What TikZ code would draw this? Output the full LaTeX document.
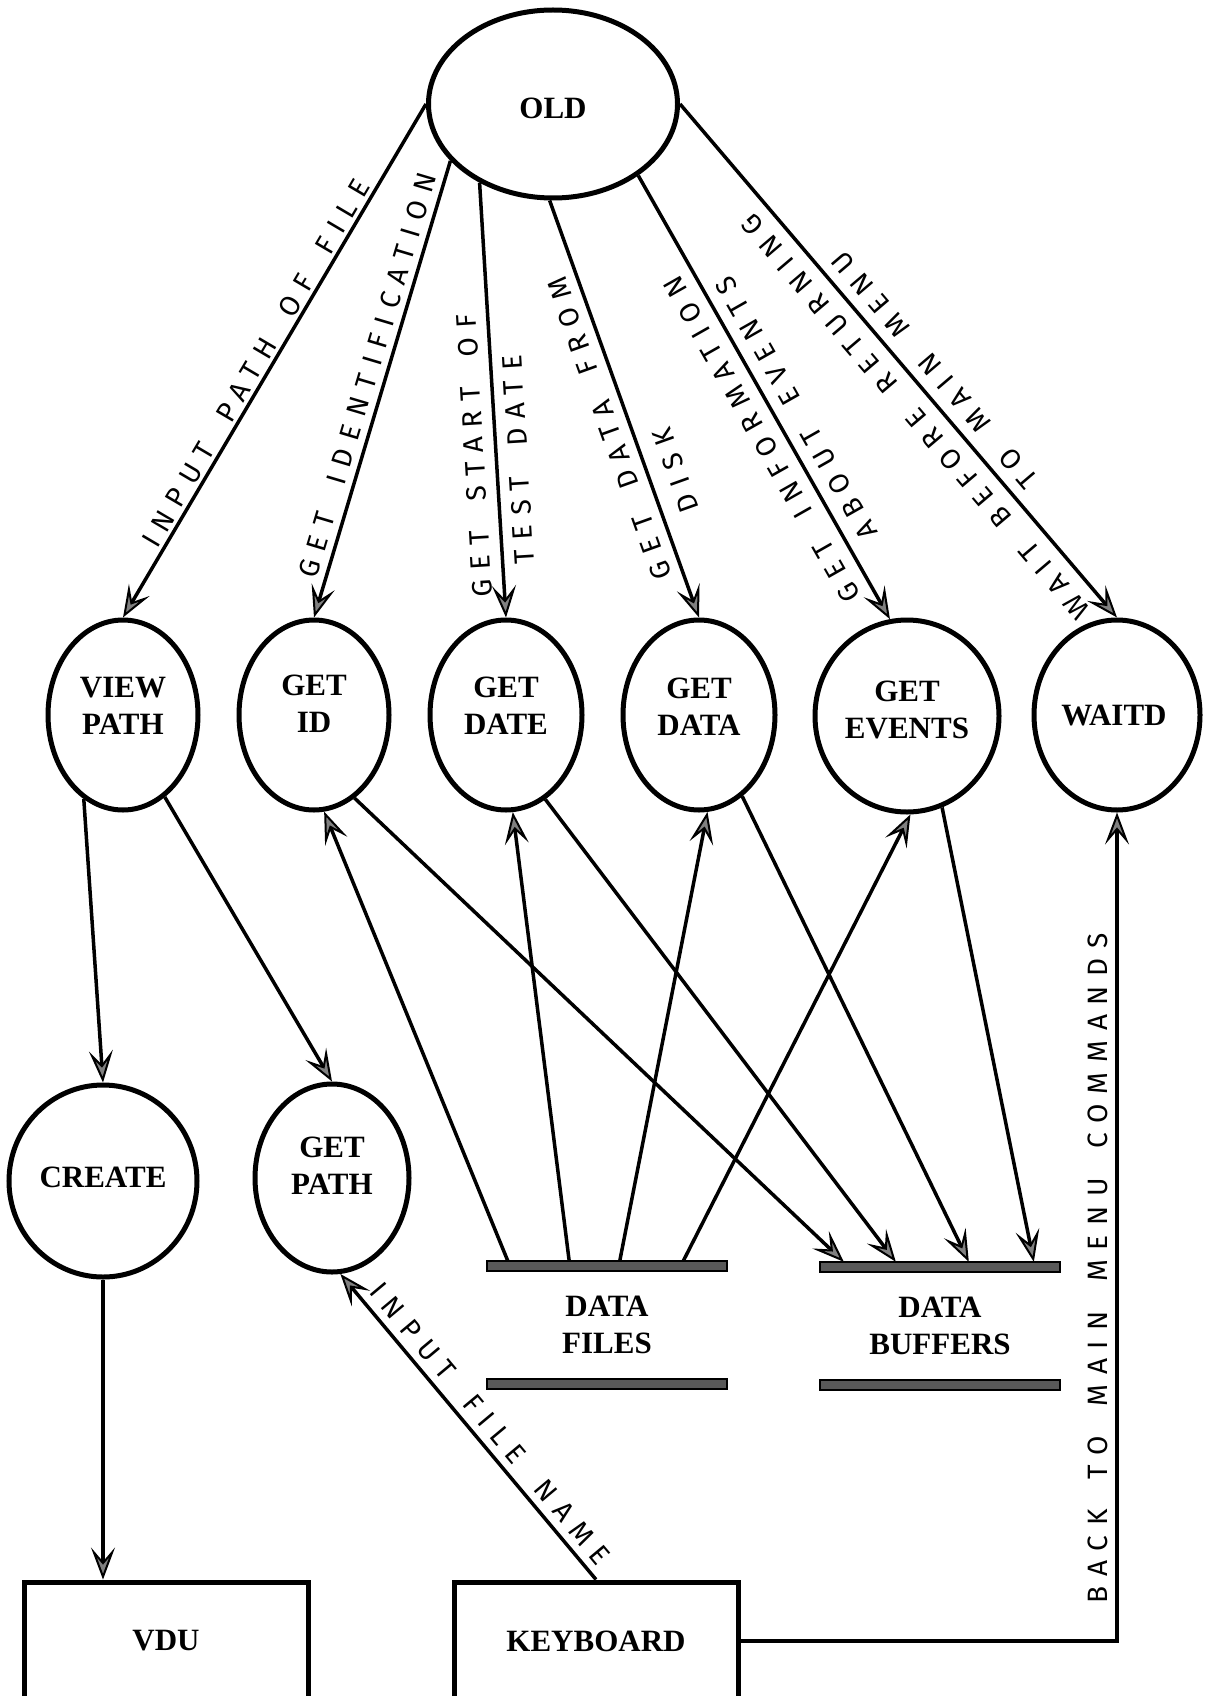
\documentclass[tikz,border=0pt]{standalone}
\usepackage{fontspec}
\setmainfont{Liberation Serif}
\newfontfamily\handfont[LetterSpace=35]{Fira Sans}
\usetikzlibrary{arrows.meta,shapes.geometric}
\newcommand\wsp{\hspace{30pt}}
\begin{document}
\begin{tikzpicture}[x=1pt,y=-1pt,
  >={Stealth[length=32pt,width=24pt,inset=14pt,fill=black!50,line width=2pt]},
  proc/.style={ellipse, draw, line width=5pt, inner sep=0pt},
  ptext/.style={font=\fontsize{31}{37}\selectfont\bfseries, align=center, inner sep=0pt},
  box/.style={rectangle, draw, line width=5pt, inner sep=0pt, minimum width=284pt, minimum height=118pt,
              font=\fontsize{31}{37}\selectfont\bfseries},
  store/.style={ptext, minimum width=240pt, minimum height=118pt},
  bar/.style={draw=black, fill=black!65, line width=1.5pt},
  flow/.style={line width=3.5pt, ->},
  flowin/.style={line width=3.5pt, <-},
  hand/.style={font=\handfont\fontsize{28}{32}\selectfont, inner sep=1pt, sloped},
  up/.style={allow upside down},
]
\useasboundingbox (0,0) rectangle (1206,1696);
\clip (0,0) rectangle (1206,1696);
\fill[white] (0,0) rectangle (1206,1696);

% processes
\node[proc, minimum width=249pt, minimum height=188pt] (old) at (553,104) {};
\node[ptext] (old-t) at ([yshift=-4pt]old.center) {OLD};

\node[proc, minimum width=150pt, minimum height=190pt] (viewpath) at (123,715) {};
\node[ptext] (viewpath-t) at ([yshift=9pt]viewpath.center) {VIEW\\PATH};
\node[proc, minimum width=150pt, minimum height=190pt] (getid) at (314,715) {};
\node[ptext] (getid-t) at ([yshift=11pt]getid.center) {GET\\ID};
\node[proc, minimum width=152pt, minimum height=190pt] (getdate) at (506,715) {};
\node[ptext] (getdate-t) at ([yshift=9pt]getdate.center) {GET\\DATE};
\node[proc, minimum width=152pt, minimum height=190pt] (getdata) at (699,715) {};
\node[ptext] (getdata-t) at ([yshift=8pt]getdata.center) {GET\\DATA};
\node[proc, minimum width=184pt, minimum height=192pt] (getevents) at (907,716) {};
\node[ptext] (getevents-t) at ([yshift=6pt]getevents.center) {GET\\EVENTS};
\node[proc, minimum width=166pt, minimum height=190pt] (waitd) at (1117,715) {};
\node[ptext] (waitd-t) at ([xshift=-3pt]waitd.center) {WAITD};

\node[proc, minimum width=188pt, minimum height=192pt] (create) at (103,1181) {};
\node[ptext] (create-t) at ([yshift=4pt]create.center) {CREATE};
\node[proc, minimum width=154pt, minimum height=188pt] (getpath) at (332,1178) {};
\node[ptext] (getpath-t) at ([yshift=12pt]getpath.center) {GET\\PATH};

% data stores
\node[store] (files) at (607,1325) {DATA\\FILES};
\node[store] (buffers) at (940,1326) {DATA\\BUFFERS};

% terminators
\node[box] (vdu) at (166,1641) {VDU};
\node[box] (keyboard) at (596,1641) {KEYBOARD};

% flows out of OLD
\draw[flowin] (viewpath.north) -- node[hand, up, pos=.48, above=2pt] (l-path) {INPUT\wsp PATH\wsp OF\wsp FILE} (old.180);
\draw[flowin] (getid.north) -- node[hand, up, pos=.52, above=5pt] (l-id) {GET\wsp IDENTIFICATION} (old.209);
\draw[flowin] (getdate.north) --
  node[hand, up, pos=.375, above=9pt] (l-date1) {GET\wsp START\wsp OF}
  node[hand, up, pos=.36, below=9pt] (l-date2) {TEST\wsp DATE} (old.227);
\draw[flowin] (getdata.north) --
  node[hand, up, pos=.47, above=8pt] (l-data1) {GET\wsp DATA\wsp FROM}
  node[hand, up, pos=.33, below=15pt] (l-data2) {DISK} (old.268);
\draw[flowin] (getevents.100) --
  node[hand, up, pos=.43, above=10pt] (l-ev1) {GET\wsp INFORMATION}
  node[hand, up, pos=.45, below=10pt] (l-ev2) {ABOUT\wsp EVENTS} (old.320);
\draw[flowin] (waitd.north) --
  node[hand, up, pos=.42, above=11pt] (l-wait1) {WAIT\wsp BEFORE\wsp RETURNING}
  node[hand, up, pos=.455, below=9pt] (l-wait2) {TO\wsp MAIN\wsp MENU} (old.0);

% data files feed the readers
\draw[flow] ([xshift=23pt]files.north west) -- (getid.276);
\draw[flow] ([xshift=83pt]files.north west) -- (getdate.274);
\draw[flow] ([xshift=132pt]files.north west) -- (getdata.275);
\draw[flow] ([xshift=194pt]files.north west) -- (getevents.272);

% readers fill the buffers
\draw[flow] (getid.296) -- ([xshift=24pt,yshift=5pt]buffers.north west);
\draw[flow] (getdate.295) -- ([xshift=76pt,yshift=5pt]buffers.north west);
\draw[flow] (getdata.298) -- ([xshift=149pt,yshift=5pt]buffers.north west);
\draw[flow] (getevents.291) -- ([xshift=214pt,yshift=5pt]buffers.north west);

% path handling
\draw[flow] (viewpath.245) -- (create.north);
\draw[flow] (viewpath.297) -- (getpath.north);
\draw[flow] (create.south) -- (create.south |- vdu.north);
\draw[flow] (keyboard.north) -- node[hand, pos=.47, above=6pt] (l-name) {INPUT\wsp FILE\wsp NAME} (getpath.275);
\draw[flow] (keyboard.east) -| node[hand, up, pos=.725, above=6pt] (l-back) {BACK\wsp TO\wsp MAIN\wsp MENU\wsp COMMANDS} (waitd.south);

% store bars
\draw[bar] ([yshift=5pt]files.north west) rectangle ([yshift=-5pt]files.north east);
\draw[bar] ([yshift=5pt]files.south west) rectangle ([yshift=-5pt]files.south east);
\draw[bar] ([yshift=5pt]buffers.north west) rectangle ([yshift=-5pt]buffers.north east);
\draw[bar] ([yshift=5pt]buffers.south west) rectangle ([yshift=-5pt]buffers.south east);
\end{tikzpicture}
\end{document}
